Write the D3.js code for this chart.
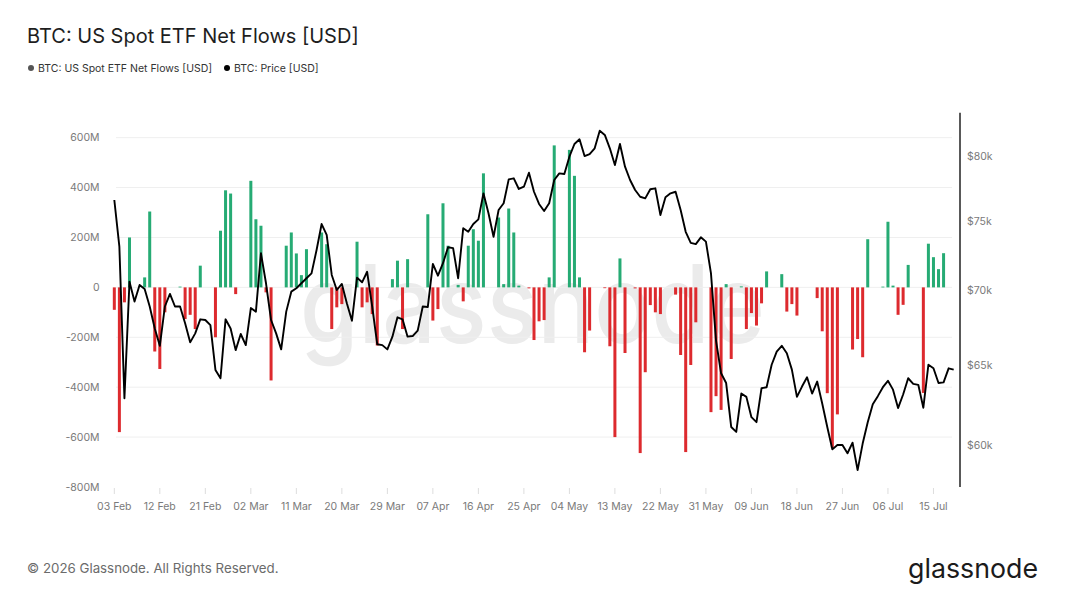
<!DOCTYPE html>
<html lang="en">
<head>
  <meta charset="UTF-8" />
  <title>BTC: US Spot ETF Net Flows [USD]</title>
  <script src="https://d3js.org/d3.v7.min.js"></script>
  <style>
    body {
      margin: 0;
      background: #fff;
      font-family: Inter, "Noto Sans", sans-serif;
    }
    svg {
      display: block;
    }
    .tick-label {
      font-size: 10.5px;
      fill: #7a7a7a;
    }
  </style>
</head>
<body>
  <svg></svg>

  <script>
    // first day of both series, one value per day after that
    const startDate = "2026-02-03";

    // daily net flows in millions of USD (null = no bar that day)
    const flows = [
      -90, -580, -60, 200, null, null, 40, 304, -257, -327,
      -100, null, null, 3, -127, -110, -167, 87, null, null,
      -200, 227, 389, 376, -27, null, null, 427, 273, 247,
      -20, -373, null, null, 167, 220, 136, 49, 153, null,
      null, 220, 173, -167, -80, -67, null, null, 183, -80,
      -60, -107, -233, null, null, 33, 107, -167, 113, null,
      null, null, 293, -133, -87, 337, 167, null, 10, -56,
      167, 233, 187, 457, null, null, 280, 13, 316, 220,
      7, null, -4, -211, -136, -131, 40, 569, null, null,
      551, 447, 40, -260, -173, null, null, -3, -236, -600,
      116, -263, null, -4, -664, -340, -71, -100, -107, null,
      null, -29, -271, -660, -311, -140, null, null, -500, -436,
      -491, 13, -287, null, 4, -167, -103, -153, -64, 64,
      null, null, 53, -97, -67, -113, null, null, null, -43,
      -176, -424, -643, -509, null, null, -249, -207, -280, 193,
      null, null, 3, 263, 7, -110, -70, 90, null, null,
      -423, 175, 121, 73, 137, null, null
    ];

    // daily BTC price in USD
    const prices = [
      76617, 73128, 62863, 70618, 69229, 70385, 70107, 68891, 67400, 66240,
      68891, 69763, 68891, 68891, 67746, 66469, 67070, 68015, 67968, 67626,
      64664, 64130, 68015, 67400, 65957, 67025, 66286, 68783, 68539, 72650,
      70507, 67968, 67070, 66006, 68539, 69920, 70157, 70507, 70863, 71210,
      72886, 74800, 73990, 71096, 70035, 70458, 69104, 67920, 70905, 70575,
      71320, 68891, 66342, 66286, 66006, 66848, 68152, 68015, 66848, 66890,
      67254, 68891, 68860, 71888, 71040, 71935, 73088, 73020, 70863, 74488,
      74224, 74800, 75152, 77126, 75610, 73855, 75857, 76369, 78214, 78293,
      77463, 77640, 78732, 77250, 76314, 75780, 76369, 78160, 78683, 78630,
      80000, 81022, 81400, 80055, 80215, 80673, 82104, 81755, 80673, 79338,
      81022, 79206, 78160, 77384, 76865, 76740, 77440, 77515, 75480, 76825,
      77126, 77250, 75857, 74224, 73413, 73317, 73814, 73497, 71210, 66589,
      64449, 63826, 61088, 60785, 63160, 62950, 61688, 61380, 63496, 63560,
      65000, 65855, 66240, 65752, 64685, 62950, 63600, 64195, 63160, 63920,
      62536, 61088, 59736, 60000, 60000, 59506, 60135, 58510, 60083, 61380,
      62490, 62995, 63560, 63968, 63405, 62250, 63100, 64130, 63775, 63712,
      62273, 65000, 64770, 63826, 63865, 64770, 64685
    ];

    const dateTicks = [
      "2026-02-03", "2026-02-12", "2026-02-21", "2026-03-02", "2026-03-11",
      "2026-03-20", "2026-03-29", "2026-04-07", "2026-04-16", "2026-04-25",
      "2026-05-04", "2026-05-13", "2026-05-22", "2026-05-31", "2026-06-09",
      "2026-06-18", "2026-06-27", "2026-07-06", "2026-07-15"
    ];
    const flowTicks = [-800, -600, -400, -200, 0, 200, 400, 600];
    const priceTicks = [60000, 65000, 70000, 75000, 80000];

    const width = 1066;
    const height = 600;
    const plotTop = 112.7;
    const plotBottom = 487;
    const plotLeft = 112;
    const plotRight = 952;
    const axisRightX = 960;

    const green = "#26ab74";
    const red = "#dd2a2e";

    const parse = d3.utcParse("%Y-%m-%d");
    const start = parse(startDate);
    const dayOf = i => d3.utcDay.offset(start, i);

    const flowData = flows.map((v, i) => ({ date: dayOf(i), value: v }))
      .filter(d => d.value !== null);
    const priceData = prices.map((v, i) => ({ date: dayOf(i), value: v }));

    const svg = d3.select("svg")
      .attr("width", width)
      .attr("height", height);

    const x = d3.scaleUtc()
      .domain([d3.utcHour.offset(start, -11), d3.utcHour.offset(start, 3976)])
      .range([plotLeft, plotRight]);

    const yFlow = d3.scaleLinear()
      .domain([-800, 700])
      .range([plotBottom, plotTop]);

    const yPrice = d3.scaleLog()
      .domain([57535, 83591])
      .range([plotBottom, plotTop]);

    // title + legend
    svg.append("text")
      .attr("x", 27)
      .attr("y", 43)
      .attr("font-size", 20)
      .attr("fill", "#1e1e1e")
      .text("BTC: US Spot ETF Net Flows [USD]");

    const legend = [
      { label: "BTC: US Spot ETF Net Flows [USD]", color: "#555", x: 31 },
      { label: "BTC: Price [USD]", color: "#000", x: 227 }
    ];
    const lg = svg.selectAll(".legend")
      .data(legend)
      .enter()
      .append("g")
      .attr("transform", d => `translate(${d.x},68)`);
    lg.append("circle")
      .attr("r", 3)
      .attr("fill", d => d.color);
    lg.append("text")
      .attr("x", 7)
      .attr("y", 3.8)
      .attr("font-size", 10.5)
      .attr("fill", "#333")
      .text(d => d.label);

    // watermark
    svg.append("text")
      .attr("x", 300)
      .attr("y", 343)
      .attr("font-size", 108)
      .attr("font-weight", 500)
      .attr("fill", "#ebebeb")
      .attr("textLength", 465)
      .attr("lengthAdjust", "spacingAndGlyphs")
      .text("glassnode");

    // grid
    svg.append("g")
      .selectAll("line")
      .data(flowTicks.filter(t => t > -800))
      .enter()
      .append("line")
      .attr("x1", plotLeft + 4)
      .attr("x2", plotRight)
      .attr("y1", d => yFlow(d))
      .attr("y2", d => yFlow(d))
      .attr("stroke", "#efefef")
      .attr("stroke-width", 1);

    // bars
    const barW = 3;
    svg.append("g")
      .selectAll("rect")
      .data(flowData)
      .enter()
      .append("rect")
      .attr("x", d => x(d.date) - barW / 2)
      .attr("width", barW)
      .attr("y", d => yFlow(Math.max(0, d.value)))
      .attr("height", d => Math.max(0.8, Math.abs(yFlow(d.value) - yFlow(0))))
      .attr("fill", d => d.value >= 0 ? green : red);

    // price line
    const line = d3.line()
      .x(d => x(d.date))
      .y(d => yPrice(d.value));

    svg.append("path")
      .datum(priceData)
      .attr("d", line)
      .attr("fill", "none")
      .attr("stroke", "#000")
      .attr("stroke-width", 1.9)
      .attr("stroke-linejoin", "round");

    // left axis labels
    svg.append("g")
      .selectAll("text")
      .data(flowTicks)
      .enter()
      .append("text")
      .attr("class", "tick-label")
      .attr("x", 99.5)
      .attr("y", d => yFlow(d) + 3.8)
      .attr("text-anchor", "end")
      .text(d => d === 0 ? "0" : d + "M");

    // right axis
    svg.append("line")
      .attr("x1", axisRightX)
      .attr("x2", axisRightX)
      .attr("y1", plotTop)
      .attr("y2", plotBottom)
      .attr("stroke", "#222")
      .attr("stroke-width", 1.5);

    svg.append("g")
      .selectAll("text")
      .data(priceTicks)
      .enter()
      .append("text")
      .attr("class", "tick-label")
      .attr("x", 967)
      .attr("y", d => yPrice(d) + 3.8)
      .text(d => "$" + d / 1000 + "k");

    // bottom axis
    const fmt = d3.utcFormat("%d %b");
    const xt = svg.append("g")
      .selectAll("g")
      .data(dateTicks.map(parse))
      .enter()
      .append("g")
      .attr("transform", d => `translate(${x(d)},0)`);
    xt.append("line")
      .attr("y1", 488)
      .attr("y2", 494)
      .attr("stroke", "#ddd");
    xt.append("text")
      .attr("class", "tick-label")
      .attr("y", 510)
      .attr("text-anchor", "middle")
      .text(d => fmt(d));

    // footer
    svg.append("text")
      .attr("x", 27)
      .attr("y", 573)
      .attr("font-size", 13.3)
      .attr("fill", "#6b6b6b")
      .text("© 2026 Glassnode. All Rights Reserved.");

    svg.append("text")
      .attr("x", 908)
      .attr("y", 578)
      .attr("font-size", 27)
      .attr("font-weight", 400)
      .attr("fill", "#1b1b1b")
      .attr("textLength", 130)
      .attr("lengthAdjust", "spacingAndGlyphs")
      .text("glassnode");
  </script>
</body>
</html>
